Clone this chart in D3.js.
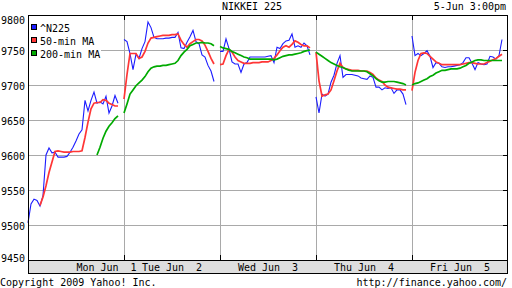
<!DOCTYPE html>
<html><head><meta charset="utf-8">
<script src="https://cdn.jsdelivr.net/npm/d3@7"></script>
<style>
html,body{margin:0;padding:0;background:#fff;}
svg{display:block;}
text{font-family:"DejaVu Sans Mono",monospace;font-size:10px;fill:#000;white-space:pre;}
</style></head><body>
<svg id="c" width="512" height="288"></svg>
<script>
// ---- data ----
const title = "NIKKEI 225";
const stamp = "5-Jun 3:00pm";
const copyright = "Copyright 2009 Yahoo! Inc.";
const source = "http://finance.yahoo.com/";
const dayLabels = ["Mon Jun  1","Tue Jun  2","Wed Jun  3","Thu Jun  4","Fri Jun  5"];
const yTicks = [9450,9500,9550,9600,9650,9700,9750,9800];
const seriesNames = ["^N225","50-min MA","200-min MA"];

// ^N225 index, sampled evenly through each trading day (31 samples per day)
const n225 = [
  [9503,9530,9537,9535,9527,9542,9600,9610,9603,9604,9597,9597,9597,9598,9604,9611,9620,9630,9636,9678,9663,9678,9690,9674,9676,9673,9684,9660,9670,9685,9674],
  [9765,9762,9745,9722,9744,9738,9752,9762,9790,9782,9768,9766,9766,9766,9767,9767,9768,9768,9775,9753,9752,9761,9769,9778,9762,9759,9743,9740,9728,9720,9705],
  [9748,9748,9766,9752,9733,9730,9730,9718,9730,9732,9740,9740,9740,9740,9740,9740,9741,9742,9732,9754,9752,9759,9763,9764,9773,9754,9756,9754,9760,9756,9743],
  [9683,9660,9687,9684,9687,9704,9714,9731,9742,9711,9715,9715,9715,9714,9713,9710,9709,9708,9713,9711,9697,9697,9693,9696,9695,9696,9688,9693,9693,9687,9672],
  [9770,9742,9745,9742,9745,9749,9741,9725,9732,9731,9726,9725,9726,9726,9727,9728,9729,9732,9739,9739,9731,9722,9732,9730,9729,9730,9741,9740,9737,9742,9765]
];
// 50-minute moving average
const ma50 = [
  [null,null,null,null,9528,9540,9556,9575,9590,9605,9606,9605,9604,9604,9604,9605,9605,9605,9606,9625,9647,9666,9674,9675,9675,9679,9678,9674,9672,9670,9670],
  [9680,9715,9745,9745,9745,9738,9740,9748,9760,9767,9768,9769,9770,9771,9771,9771,9772,9772,9773,9764,9758,9754,9759,9762,9765,9765,9763,9757,9748,9738,9730],
  [9729,9730,9742,9751,9747,9740,9735,9733,9731,9731,9731,9732,9732,9732,9733,9733,9733,9735,9738,9743,9749,9754,9756,9754,9758,9763,9761,9758,9756,9756,9753],
  [9747,9706,9684,9686,9687,9693,9706,9720,9731,9725,9723,9722,9721,9721,9721,9720,9720,9720,9718,9715,9710,9707,9705,9700,9697,9696,9695,9694,9694,9693,9693],
  [9692,9718,9735,9745,9746,9745,9741,9737,9733,9731,9729,9729,9729,9729,9729,9729,9729,9730,9731,9732,9732,9731,9730,9730,9730,9732,9734,9736,9738,9741,9744]
];
// 200-minute moving average
const ma200 = [
  [null,null,null,null,null,null,null,null,null,null,null,null,null,null,null,null,null,null,null,null,null,null,null,9600,9611,9624,9634,9641,9646,9652,9656],
  [9660,9673,9687,9693,9699,9703,9707,9712,9719,9724,9726,9727,9727,9728,9728,9729,9730,9731,9735,9742,9747,9751,9756,9758,9760,9760,9761,9760,9760,9759,9756],
  [9755,9753,9752,9751,9748,9746,9744,9742,9740,9739,9737,9737,9737,9737,9737,9737,9737,9737,9736,9737,9739,9741,9742,9743,9743,9744,9745,9746,9748,9749,9750],
  [9747,9744,9741,9738,9735,9732,9730,9728,9726,9725,9723,9721,9720,9720,9720,9720,9720,9719,9716,9713,9709,9706,9704,9704,9705,9705,9705,9704,9703,9702,9700],
  [9700,9702,9703,9705,9707,9709,9712,9714,9717,9719,9721,9721,9722,9723,9723,9723,9724,9726,9728,9731,9733,9735,9736,9736,9735,9735,9735,9735,9735,9735,9735]
];
const colors = ["#1c1cff","#ff3636","#00aa00"];

// ---- chart ----
const svg = d3.select("#c");
const x = d3.scaleLinear().domain([0, 5]).range([28, 508]);
const y = d3.scaleLinear().domain([9450, 9800]).range([260, 15]);
const sessionFrac = 90 / 96; // share of a day column covered by the session

// horizontal grid + labels
const gY = svg.append("g").attr("transform", "translate(28,0)")
  .call(d3.axisLeft(y).tickValues(yTicks).tickSize(-480).tickPadding(3).tickFormat(d3.format("d")));
gY.select(".domain").remove();
gY.selectAll(".tick line").attr("stroke", "#a9a9a9");
gY.selectAll(".tick text").attr("dy", d => d === 9800 ? 8.3 : d === 9450 ? 1.7 : 4.7);

// vertical grid at day boundaries
const gX = svg.append("g").attr("transform", "translate(0,260)")
  .call(d3.axisBottom(x).tickValues([1,2,3,4]).tickSize(-245).tickFormat(""));
gX.select(".domain").remove();
gX.selectAll(".tick line").attr("stroke", "#a9a9a9");

// series lines (one path per day)
const line = d3.line()
  .defined(d => d.v != null)
  .x(d => x(d.t))
  .y(d => y(d.v));
const toPts = (arr, di) => arr.map((v, i) => ({t: di + (i / (arr.length - 1)) * sessionFrac, v}));
const seriesList = [n225, ma50, ma200];
const widths = [1.1, 1.7, 1.7];
const plot = svg.append("g");
seriesList.forEach((s, si) => {
  plot.selectAll(null).data(s).join("path")
    .attr("d", (arr, di) => line(toPts(arr, di)))
    .attr("fill", "none")
    .attr("stroke", colors[si])
    .attr("stroke-width", widths[si])
    .attr("stroke-linejoin", "miter");
});

// black ticks
const tTop = svg.append("g").attr("transform", "translate(0,15)")
  .call(d3.axisTop(x).tickValues([1,2,3,4]).tickSize(-5).tickFormat(""));
tTop.select(".domain").remove();
const tBot = svg.append("g").attr("transform", "translate(0,260)")
  .call(d3.axisBottom(x).tickValues([1,2,3,4]).tickSize(-5).tickFormat(""));
tBot.select(".domain").remove();
const tRight = svg.append("g").attr("transform", "translate(507,0)")
  .call(d3.axisRight(y).tickValues(yTicks.slice(1, -1)).tickSize(-4).tickFormat(""));
tRight.select(".domain").remove();

// frame
svg.append("line").attr("x1", 28).attr("x2", 508).attr("y1", 15.5).attr("y2", 15.5).attr("stroke", "#000");
svg.append("line").attr("x1", 28.5).attr("x2", 28.5).attr("y1", 15).attr("y2", 274).attr("stroke", "#000");
svg.append("line").attr("x1", 507.5).attr("x2", 507.5).attr("y1", 15).attr("y2", 274).attr("stroke", "#000");

// date band
svg.append("rect").attr("x", 28.5).attr("y", 260.5).attr("width", 479).attr("height", 13)
  .attr("fill", "#dedede").attr("stroke", "#000");
const gLab = svg.append("g").attr("transform", "translate(0,260)")
  .call(d3.axisBottom(x).tickValues([0.5,1.5,2.5,3.5,4.5]).tickSize(0).tickFormat((d, i) => dayLabels[i]));
gLab.select(".domain").remove();
gLab.selectAll(".tick text").attr("y", 0).attr("dy", 11)
  .attr("dx", (d, i) => i === 0 ? 30 : -0.5);

// legend
const leg = svg.append("g");
leg.append("rect").attr("x", 29).attr("y", 16).attr("width", 72).attr("height", 44).attr("fill", "#fff");
seriesNames.forEach((n, i) => {
  leg.append("rect").attr("x", 31.5).attr("y", 24.5 + i * 13).attr("width", 5).attr("height", 5)
    .attr("fill", colors[i]).attr("stroke", "#000");
  leg.append("text").attr("x", 40).attr("y", 31.5 + i * 13).text(n);
});

// titles
svg.append("text").attr("x", 252).attr("y", 10).attr("text-anchor", "middle").text(title);
svg.append("text").attr("x", 506).attr("y", 10).attr("text-anchor", "end").text(stamp);
svg.append("text").attr("x", 0).attr("y", 285.5).text(copyright);
svg.append("text").attr("x", 507).attr("y", 285.5).attr("text-anchor", "end").text(source);
</script>
</body></html>
